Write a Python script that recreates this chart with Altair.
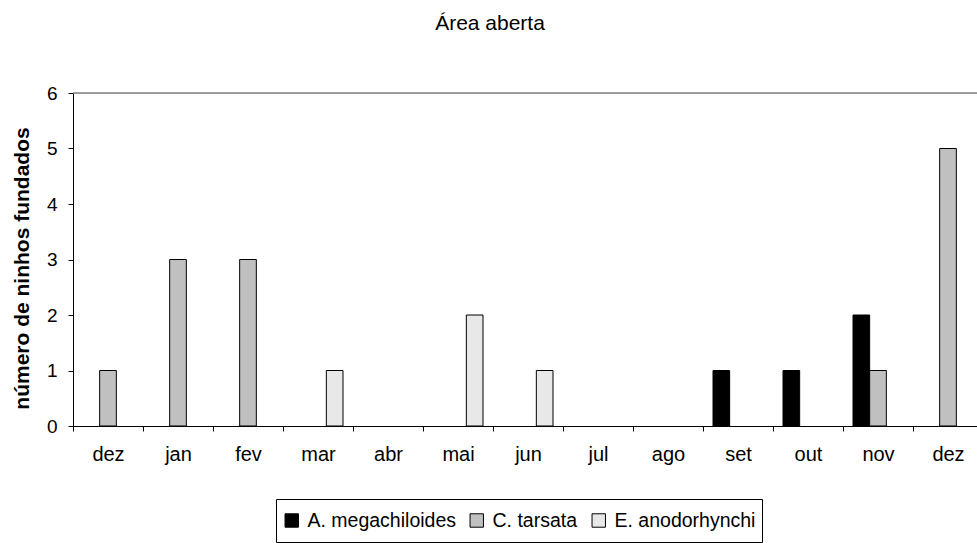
import altair as alt
import pandas as pd

# Months of the sampling period (Dec to Dec)
months = ["dez", "jan", "fev", "mar", "abr", "mai", "jun", "jul", "ago", "set", "out", "nov", "dez"]
series = ["A. megachiloides", "C. tarsata", "E. anodorhynchi"]

# Number of nests founded per month, per species
a_megachiloides = [0, 0, 0, 0, 0, 0, 0, 0, 0, 1, 1, 2, 0]
c_tarsata = [1, 3, 3, 0, 0, 0, 0, 0, 0, 0, 0, 1, 5]
e_anodorhynchi = [0, 0, 0, 1, 0, 2, 1, 0, 0, 0, 0, 0, 0]

colors = ["#000000", "#c0c0c0", "#e8e8e8"]

rows = []
for name, vals in zip(series, [a_megachiloides, c_tarsata, e_anodorhynchi]):
    for i, v in enumerate(vals):
        rows.append({"idx": i, "especie": name, "ninhos": v})
df = pd.DataFrame(rows)
df = df[df["ninhos"] > 0]

label_expr = "[" + ",".join(f"'{m}'" for m in months) + "][datum.value]"
FONT = "Liberation Sans"

bars = alt.Chart(df).mark_bar(stroke="#000000", strokeWidth=1).encode(
    x=alt.X(
        "idx:O",
        scale=alt.Scale(domain=list(range(len(months))), range=[0, 910], paddingInner=0, paddingOuter=0),
        axis=alt.Axis(
            title=None,
            labelExpr=label_expr,
            labelAngle=0,
            labelFontSize=20,
            labelFont=FONT,
            labelColor="#000000",
            labelPadding=13,
            tickBand="extent",
            tickSize=5,
            tickColor="#000000",
            domainColor="#000000",
            grid=False,
        ),
    ),
    xOffset=alt.XOffset(
        "especie:N",
        sort=series,
        scale=alt.Scale(domain=series, paddingOuter=0.6, paddingInner=0),
    ),
    y=alt.Y(
        "ninhos:Q",
        scale=alt.Scale(domain=[0, 6], nice=False),
        axis=alt.Axis(
            title="número de ninhos fundados",
            titleFont=FONT,
            titleFontSize=21,
            titleFontWeight="bold",
            titleColor="#000000",
            titleAngle=-90,
            titleX=-51,
            titleY=175,
            titleAlign="center",
            titleBaseline="middle",
            values=[0, 1, 2, 3, 4, 5, 6],
            format="d",
            labelFontSize=19,
            labelFont=FONT,
            labelColor="#000000",
            labelPadding=11,
            tickSize=5,
            tickColor="#000000",
            domainColor="#000000",
            grid=False,
        ),
    ),
    color=alt.Color(
        "especie:N",
        sort=series,
        scale=alt.Scale(domain=series, range=colors),
        legend=alt.Legend(
            title=None,
            orient="none",
            direction="horizontal",
            legendX=203,
            legendY=406,
            strokeColor="#000000",
            padding=6,
            clipHeight=31,
            symbolType="square",
            symbolSize=180,
            symbolStrokeColor="#000000",
            symbolStrokeWidth=1,
            symbolOpacity=1,
            labelFont=FONT,
            labelFontSize=19.5,
            labelColor="#000000",
            labelOffset=6,
            columnPadding=11,
        ),
    ),
)

top_line = alt.Chart(pd.DataFrame({"v": [6]})).mark_rule(color="#808080", strokeWidth=1.5).encode(
    y=alt.datum(6)
)

chart = alt.layer(top_line, bars).properties(
    width=904,
    height=333,
    title=alt.TitleParams(
        "Área aberta",
        font=FONT,
        fontSize=21,
        fontWeight="normal",
        color="#000000",
        anchor="middle",
        dx=-35,
        offset=50,
    ),
    autosize=alt.AutoSizeParams(type="none"),
    padding={"left": 73, "top": 93, "right": 0, "bottom": 117},
).configure_view(stroke=None).configure(background="#ffffff")

chart.save("out.html", embed_options={"renderer": "svg", "actions": False})
